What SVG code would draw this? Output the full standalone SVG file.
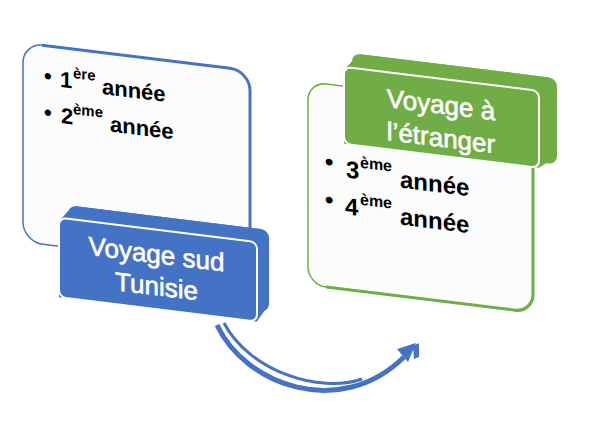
<svg xmlns="http://www.w3.org/2000/svg" width="594" height="432" viewBox="0 0 594 432">
<style>
.title{font-family:"Liberation Sans",Arial,sans-serif;font-size:26px;fill:#ffffff;stroke:#ffffff;stroke-width:0.6;text-anchor:middle}
.item{font-family:"Liberation Sans",Arial,sans-serif;font-size:22px;font-weight:bold;fill:#000000}
.big{font-size:24px}
.sup{font-size:15px}
.big .sup{font-size:16px}
.card{fill:#fcfcfc}
.blue{fill:#4472C4}
.green{fill:#70AD47}
.face{stroke:#ffffff;stroke-width:2}
</style>
<rect width="594" height="432" fill="#ffffff"/>
<g id="connectors">
  <path d="M217,325 C245,385 340,420 404,357" fill="none" stroke="#4472C4" stroke-width="5"/>
  <path d="M224,323 C249,371 320,394 362,379" fill="none" stroke="#4472C4" stroke-width="3"/>
  <polygon points="416,343 397,349 408,362" class="blue"/>
  <polygon points="413,346 419,343 419,357 414,359" class="blue"/>
</g>
<g transform="skewY(7)">
  <g id="card-left">
    <rect x="23" y="40" width="227" height="199" rx="20" class="card" stroke="#4472C4" stroke-width="1.5"/>
    <path d="M42,40 H230 A20,20 0 0 1 250,60 V225" fill="none" stroke="#4472C4" stroke-width="3"/>
    <text class="item"><tspan x="44" y="77.5">• </tspan><tspan x="60" y="79.5">1</tspan><tspan class="sup" x="73" y="69">ère </tspan><tspan x="102" y="81.5">année</tspan></text>
    <text class="item"><tspan x="44" y="114">• </tspan><tspan x="61" y="115.5">2</tspan><tspan class="sup" x="73" y="105">ème </tspan><tspan x="110" y="118">année</tspan></text>
  </g>
  <g id="node-sud">
    <rect x="68" y="197" width="201" height="82" rx="8" class="blue"/>
    <polygon points="59,214 68,203 76,197 261,197 269,205 269,271 257,290 59,290" class="blue"/>
    <rect x="59" y="210.5" width="198" height="79.5" rx="7" class="blue face"/>
    <text class="title" x="156.5" y="244">Voyage sud</text>
    <text class="title" x="156.5" y="276">Tunisie</text>
  </g>
  <g id="card-right">
    <rect x="308" y="44" width="225" height="203" rx="18" class="card" stroke="#70AD47" stroke-width="1.5"/>
    <path d="M326,247 H515 A18,18 0 0 0 533,229 V100" fill="none" stroke="#70AD47" stroke-width="3"/>
    <text class="item big"><tspan x="325" y="129.5">• </tspan><tspan x="346" y="135">3</tspan><tspan class="sup" x="360" y="123.5">ème </tspan><tspan x="400" y="138.5">année</tspan></text>
    <text class="item big"><tspan x="325" y="167.5">• </tspan><tspan x="345" y="172">4</tspan><tspan class="sup" x="360" y="160.5">ème </tspan><tspan x="400" y="175.5">année</tspan></text>
  </g>
  <g id="node-etranger">
    <rect x="352" y="10" width="205" height="86" rx="8" class="green"/>
    <polygon points="344,28 352,18 360,10 549,10 557,18 557,88 539,101.5 344,101.5" class="green"/>
    <rect x="344" y="24.6" width="195" height="77" rx="7" class="green face"/>
    <text class="title" x="441" y="59.5">Voyage à</text>
    <text class="title" x="441" y="92.5">l’étranger</text>
  </g>
</g>
</svg>
